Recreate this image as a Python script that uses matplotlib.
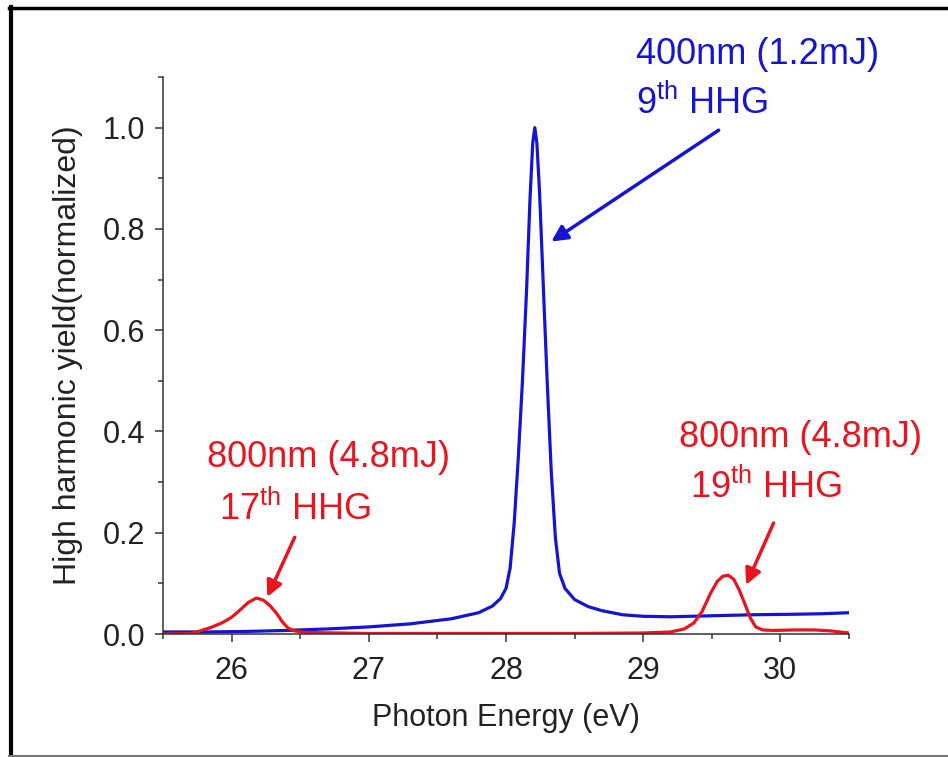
import matplotlib
matplotlib.use("Agg")
import matplotlib.pyplot as plt
from matplotlib.lines import Line2D
from matplotlib.ticker import MultipleLocator

plt.rcParams['font.family'] = ['Liberation Sans', 'DejaVu Sans']
plt.rcParams['mathtext.fontset'] = 'custom'
plt.rcParams['mathtext.rm'] = 'Liberation Sans'
plt.rcParams['mathtext.it'] = 'Liberation Sans'

# 400 nm driver, 9th harmonic
blue_x = [25.5, 25.8, 26.1, 26.4, 26.7, 27.0, 27.3, 27.6, 27.8, 27.9, 27.96, 28.0,
          28.03, 28.06, 28.09, 28.12, 28.15, 28.175, 28.195, 28.21, 28.225, 28.245,
          28.27, 28.30, 28.33, 28.36, 28.39, 28.43, 28.5, 28.6, 28.7, 28.85, 29.0,
          29.2, 29.5, 29.8, 30.1, 30.3, 30.5]
blue_y = [0.004, 0.004, 0.005, 0.007, 0.010, 0.014, 0.020, 0.030, 0.042, 0.055, 0.07, 0.09,
          0.13, 0.22, 0.35, 0.50, 0.68, 0.86, 0.97, 1.0, 0.97, 0.87,
          0.70, 0.50, 0.32, 0.19, 0.12, 0.09, 0.068, 0.054, 0.046, 0.038, 0.035,
          0.034, 0.036, 0.038, 0.039, 0.040, 0.042]

# 800 nm driver, 17th and 19th harmonics
red_x = [25.5, 25.7, 25.77, 25.85, 25.93, 26.0, 26.06, 26.12, 26.18, 26.23, 26.28, 26.33,
         26.37, 26.41, 26.46, 26.55, 27.0, 27.5, 28.0, 28.5, 29.0, 29.2, 29.3, 29.37,
         29.43, 29.49, 29.54, 29.58, 29.62, 29.66, 29.70, 29.74, 29.78, 29.82, 29.87,
         29.95, 30.1, 30.25, 30.37, 30.5]
red_y = [0.0, 0.001, 0.006, 0.013, 0.022, 0.033, 0.047, 0.062, 0.071, 0.067, 0.056, 0.040,
         0.024, 0.012, 0.006, 0.003, 0.001, 0.001, 0.001, 0.001, 0.002, 0.004, 0.010, 0.022,
         0.045, 0.080, 0.104, 0.114, 0.116, 0.108, 0.087, 0.060, 0.032, 0.014, 0.008,
         0.007, 0.008, 0.008, 0.006, 0.002]

blue = '#1414d2'
red = '#e8141e'

fig = plt.figure(figsize=(9.48, 7.57), dpi=100)
ax = fig.add_axes([163 / 948, 1 - 634 / 757, (849 - 163) / 948, (634 - 77) / 757])

ax.plot(blue_x, blue_y, color=blue, lw=2.3, solid_joinstyle='round')
ax.plot(red_x, red_y, color=red, lw=2.3, solid_joinstyle='round')

ax.set_xlim(25.5, 30.5)
ax.set_ylim(0, 1.1)
ax.xaxis.set_major_locator(MultipleLocator(1))
ax.xaxis.set_minor_locator(MultipleLocator(0.5))
ax.yaxis.set_major_locator(MultipleLocator(0.2))
ax.yaxis.set_minor_locator(MultipleLocator(0.1))
ax.set_xticks([26, 27, 28, 29, 30])
ax.set_yticks([0.0, 0.2, 0.4, 0.6, 0.8, 1.0])
ax.set_yticklabels(['0.0', '0.2', '0.4', '0.6', '0.8', '1.0'])

for s in ['top', 'right']:
    ax.spines[s].set_visible(False)
for s in ['left', 'bottom']:
    ax.spines[s].set_color('#333333')
    ax.spines[s].set_linewidth(1.1)
ax.tick_params(which='major', length=6, width=1.1, color='#333333', labelsize=22,
               labelcolor='#222222')
ax.tick_params(which='minor', length=3.5, width=1.1, color='#333333')
ax.tick_params(axis='x', which='major', pad=10)
ax.tick_params(axis='y', which='major', pad=7)

ax.set_xlabel('Photon Energy (eV)', fontsize=22, color='#222222', labelpad=12)
ax.set_ylabel('High harmonic yield(normalized)', fontsize=23, color='#222222', labelpad=14)

# labels
ax.text(28.95, 1.126, '400nm (1.2mJ)', color=blue, fontsize=26, va='baseline')
ax.text(28.95, 1.028, r'9$^{\mathrm{th}}$ HHG', color=blue, fontsize=26, va='baseline')
ax.text(25.82, 0.329, '800nm (4.8mJ)', color=red, fontsize=26, va='baseline')
ax.text(25.91, 0.225, r'17$^{\mathrm{th}}$ HHG', color=red, fontsize=26, va='baseline')
ax.text(29.26, 0.369, '800nm (4.8mJ)', color=red, fontsize=26, va='baseline')
ax.text(29.34, 0.268, r'19$^{\mathrm{th}}$ HHG', color=red, fontsize=26, va='baseline')

# arrows
arrow = dict(arrowstyle='-|>', lw=2.5, mutation_scale=24, shrinkA=0, shrinkB=0)
ax.annotate('', xy=(28.33, 0.775), xytext=(29.55, 0.995),
            arrowprops=dict(arrow, color=blue), annotation_clip=False)
ax.annotate('', xy=(26.26, 0.073), xytext=(26.46, 0.191),
            arrowprops=dict(arrow, color=red))
ax.annotate('', xy=(29.75, 0.097), xytext=(29.95, 0.219),
            arrowprops=dict(arrow, color=red))

# outer frame
fig.add_artist(Line2D([10.5 / 948, 10.5 / 948], [0, 1 - 7 / 757], color='black', lw=3,
                      transform=fig.transFigure))
fig.add_artist(Line2D([9 / 948, 1], [1 - 7.5 / 757, 1 - 7.5 / 757], color='black', lw=2.5,
                      transform=fig.transFigure))
fig.add_artist(Line2D([9 / 948, 1], [1.5 / 757, 1.5 / 757], color='#777777', lw=1.5,
                      transform=fig.transFigure))

fig.savefig('out.png', dpi=100)
